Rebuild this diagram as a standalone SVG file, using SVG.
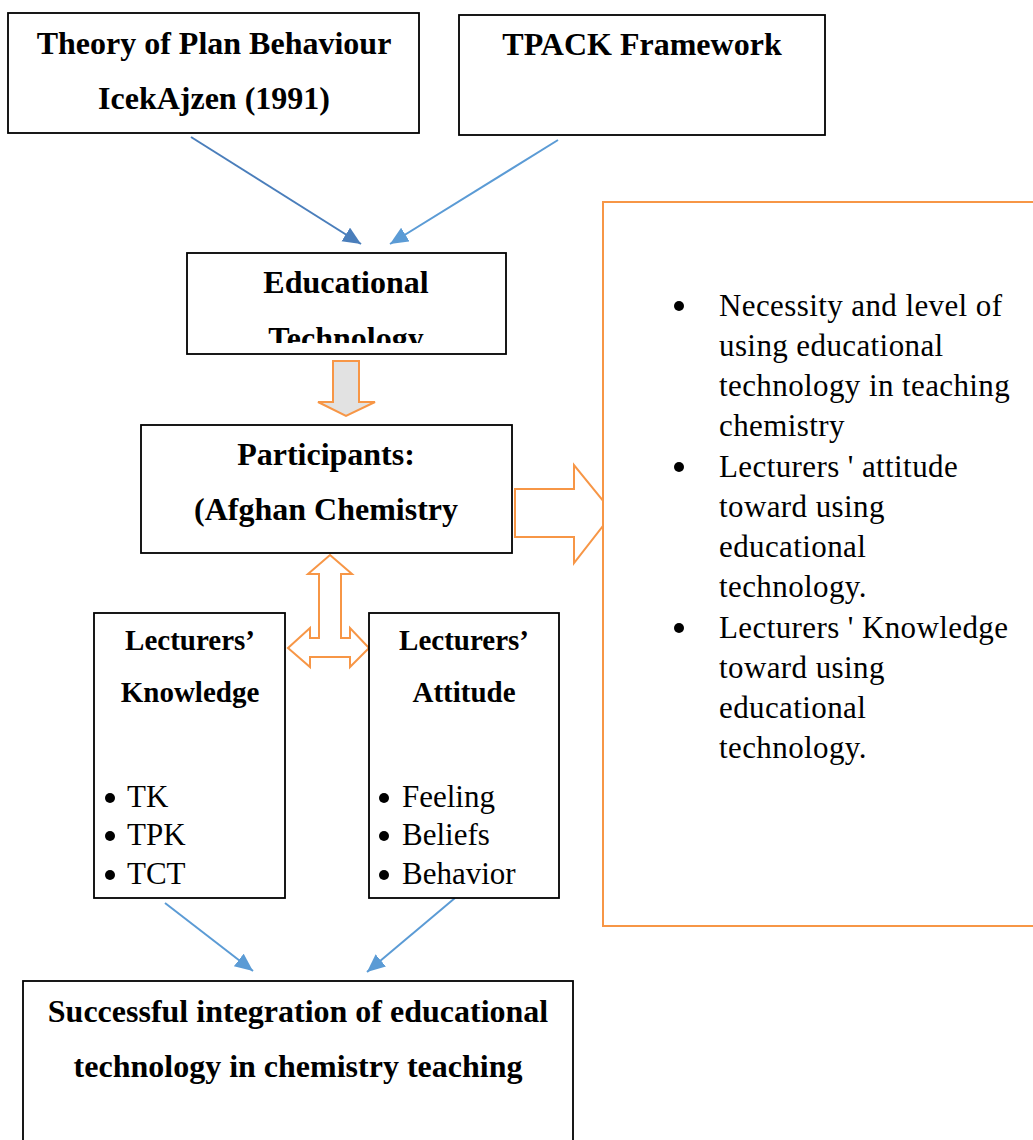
<svg xmlns="http://www.w3.org/2000/svg" width="1033" height="1140" viewBox="0 0 1033 1140">
<style>
.box{fill:#fff;stroke:#000;stroke-width:1.8}
.obox{fill:#fff;stroke:#F79646;stroke-width:2}
.blk{fill:none;stroke:#F79646;stroke-width:2;stroke-linejoin:miter}
.h{font-family:"Liberation Serif","Times New Roman",serif;font-weight:bold;font-size:32px;fill:#000;text-anchor:middle}
.h2{font-family:"Liberation Serif","Times New Roman",serif;font-weight:bold;font-size:29px;fill:#000;text-anchor:middle}
.t{font-family:"Liberation Serif","Times New Roman",serif;font-size:31px;fill:#000}
.w{letter-spacing:0.4px}
.con{stroke:#5B9BD5;stroke-width:2;fill:none}
</style>
<defs>
<marker id="ah" markerUnits="userSpaceOnUse" markerWidth="20" markerHeight="20" refX="18" refY="8" orient="auto">
<path d="M0,0 L18,8 L0,16 z" fill="#5B9BD5"/>
</marker>
<marker id="ah2" markerUnits="userSpaceOnUse" markerWidth="20" markerHeight="20" refX="18" refY="8" orient="auto">
<path d="M0,0 L18,8 L0,16 z" fill="#4A7EBB"/>
</marker>
<clipPath id="clipET"><rect x="187" y="253" width="319" height="90"/></clipPath>
</defs>

<g id="connectors">
<line x1="191" y1="137" x2="361" y2="244" stroke="#4A7EBB" stroke-width="2" marker-end="url(#ah2)"/>
<line x1="558" y1="140" x2="390" y2="244" class="con" marker-end="url(#ah)"/>
<line x1="165" y1="903" x2="253" y2="971" class="con" marker-end="url(#ah)"/>
<line x1="455" y1="898" x2="367" y2="972" class="con" marker-end="url(#ah)"/>
<polygon id="down-arrow" points="333,361 359,361 359,402 375,402 346,416 318,402 333,402" fill="#E2E2E2" stroke="#F79646" stroke-width="2"/>
<polygon id="right-arrow" class="blk" points="515,489 574,489 574,465 613,513 574,563 574,537 515,537"/>
<polygon id="tri-arrow" class="blk" points="330,555 352,574 341,574 341,638 350,638 350,628 369,648 350,667 350,657 310,657 310,667 288,648 310,628 310,638 319,638 319,574 308,574"/>
</g>

<g id="theory">
<rect class="box" x="8" y="13" width="411" height="120"/>
<text class="h" x="214" y="54">Theory of Plan Behaviour</text>
<text class="h" x="214" y="109">IcekAjzen (1991)</text>
</g>

<g id="tpack">
<rect class="box" x="459" y="15" width="366" height="120"/>
<text class="h" x="642" y="55">TPACK Framework</text>
</g>

<g id="edtech">
<rect class="box" x="187" y="253" width="319" height="101"/>
<text class="h" x="346" y="293">Educational</text>
<text class="h" x="346" y="349" clip-path="url(#clipET)">Technology</text>
</g>

<g id="participants">
<rect class="box" x="141" y="425" width="371" height="128"/>
<text class="h" x="326" y="465">Participants:</text>
<text class="h" x="326" y="520">(Afghan Chemistry</text>
</g>

<g id="outcomes">
<path class="obox" d="M1040,202 L603,202 L603,926 L1040,926"/>
<circle cx="679" cy="306" r="5"/>
<circle cx="679" cy="467" r="5"/>
<circle cx="679" cy="628" r="5"/>
<text class="t w" x="719" y="316">Necessity and level of</text>
<text class="t w" x="719" y="356">using educational</text>
<text class="t w" x="719" y="396">technology in teaching</text>
<text class="t w" x="719" y="436">chemistry</text>
<text class="t w" x="719" y="477">Lecturers ' attitude</text>
<text class="t w" x="719" y="517">toward using</text>
<text class="t w" x="719" y="557">educational</text>
<text class="t w" x="719" y="597">technology.</text>
<text class="t w" x="719" y="638">Lecturers ' Knowledge</text>
<text class="t w" x="719" y="678">toward using</text>
<text class="t w" x="719" y="718">educational</text>
<text class="t w" x="719" y="758">technology.</text>
</g>

<g id="knowledge">
<rect class="box" x="94" y="613" width="191" height="285"/>
<text class="h2" x="190" y="650">Lecturers’</text>
<text class="h2" x="190" y="702">Knowledge</text>
<circle cx="110" cy="798" r="5"/>
<circle cx="110" cy="836" r="5"/>
<circle cx="110" cy="875" r="5"/>
<text class="t" x="127" y="807">TK</text>
<text class="t" x="127" y="845">TPK</text>
<text class="t" x="127" y="884">TCT</text>
</g>

<g id="attitude">
<rect class="box" x="369" y="613" width="190" height="285"/>
<text class="h2" x="464" y="650">Lecturers’</text>
<text class="h2" x="464" y="702">Attitude</text>
<circle cx="384" cy="798" r="5"/>
<circle cx="384" cy="836" r="5"/>
<circle cx="384" cy="875" r="5"/>
<text class="t" x="402" y="807">Feeling</text>
<text class="t" x="402" y="845">Beliefs</text>
<text class="t" x="402" y="884">Behavior</text>
</g>

<g id="integration">
<rect class="box" x="23" y="981" width="550" height="170"/>
<text class="h" x="298" y="1022">Successful integration of educational</text>
<text class="h" x="298" y="1077">technology in chemistry teaching</text>
</g>
</svg>
